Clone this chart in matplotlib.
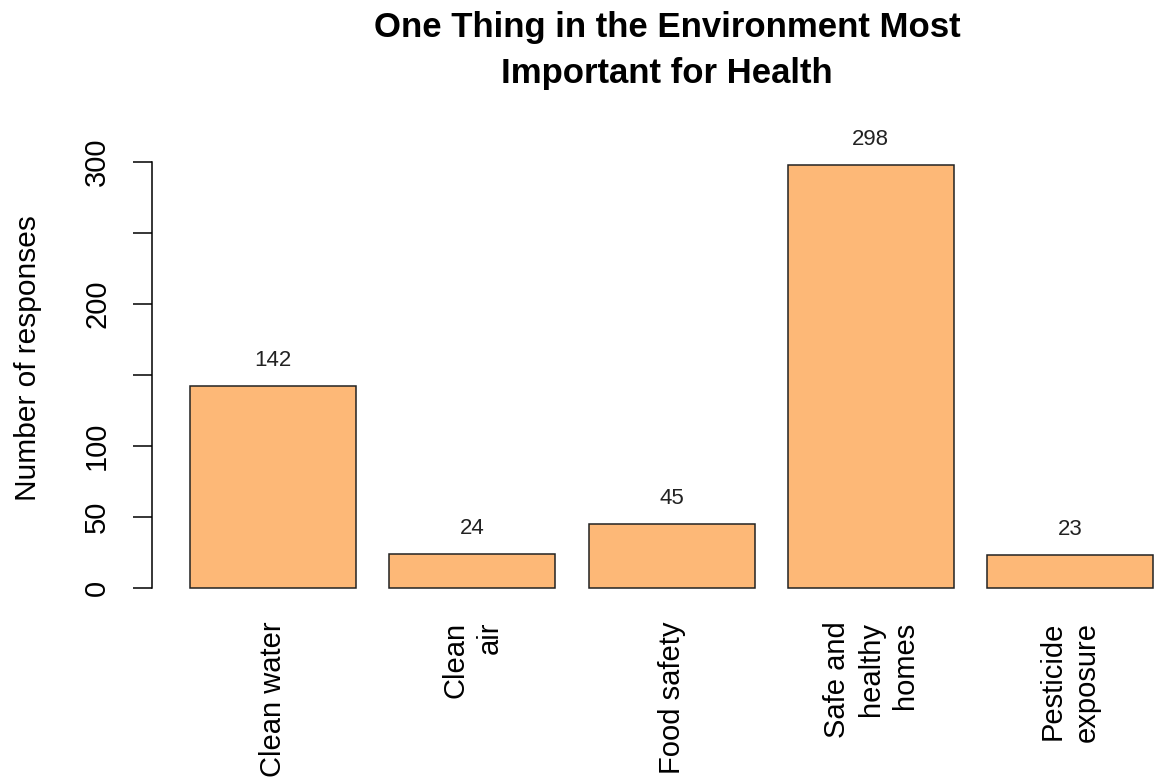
import matplotlib
matplotlib.use("Agg")
import matplotlib.pyplot as plt

categories = ["Clean water", "Clean\nair", "Food safety", "Safe and\nhealthy\nhomes", "Pesticide\nexposure"]
counts = [142, 24, 45, 298, 23]
yticks = [0, 50, 100, 150, 200, 250, 300]
ytick_labels = ["0", "50", "100", "", "200", "", "300"]

plt.rcParams["font.family"] = ["Liberation Sans", "DejaVu Sans"]

fig = plt.figure(figsize=(11.59, 7.83), dpi=100)
ax = fig.add_axes([152 / 1159, 1 - 605 / 783, 1 - 152 / 1159, (605 - 148) / 783])

lefts = [0.2 + 1.2 * i for i in range(len(counts))]
centers = [l + 0.5 for l in lefts]
ax.bar(centers, counts, width=1.0, color="#FDB877", edgecolor="#222222", linewidth=1.1)

for c, v in zip(centers, counts):
    ax.annotate(str(v), (c, v), xytext=(0, 11), textcoords="offset points",
                ha="center", va="bottom", fontsize=16, color="#222222")

ax.set_xlim(-0.029, 6.036)
ax.set_ylim(-11.92, 309.92)

for s in ["top", "right", "bottom"]:
    ax.spines[s].set_visible(False)
ax.spines["left"].set_bounds(0, 300)
ax.spines["left"].set_linewidth(1.1)

ax.set_yticks(yticks)
ax.set_yticklabels(ytick_labels, rotation=90, va="center", ha="right", fontsize=21)
ax.tick_params(axis="y", length=13.5, width=1.1, pad=16)

ax.set_xticks(centers)
ax.set_xticklabels(categories, rotation=90, ha="center", va="top",
                   multialignment="right", fontsize=21, linespacing=1.28)
ax.tick_params(axis="x", length=0, pad=12)

fig.text(28 / 1159, 1 - 358 / 783, "Number of responses", rotation=90,
         ha="center", va="center", fontsize=21.5)
fig.text(667 / 1159, 1 - 51 / 783, "One Thing in the Environment Most\nImportant for Health",
         ha="center", va="center", fontsize=25, fontweight="bold", linespacing=1.5)

fig.savefig("out.png", dpi=100)
